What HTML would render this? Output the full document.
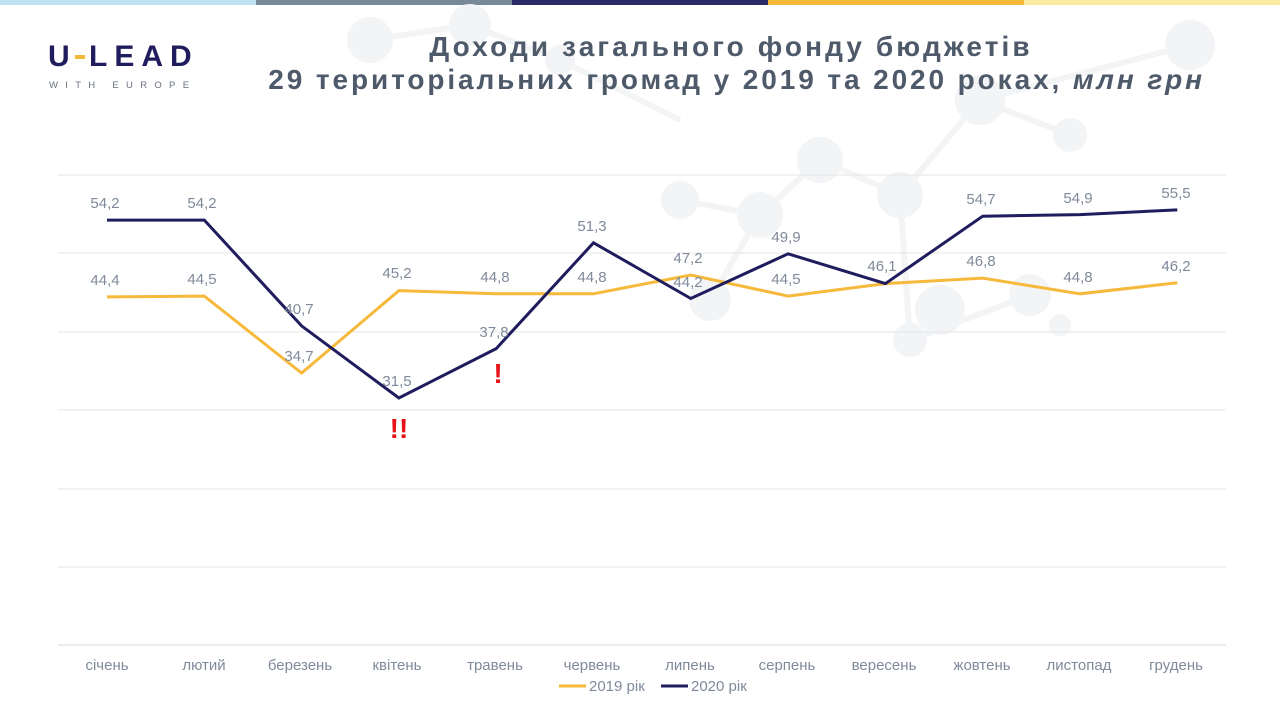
<!DOCTYPE html>
<html><head><meta charset="utf-8"><style>
body{margin:0;width:1280px;height:720px;overflow:hidden;background:#fff;font-family:"Liberation Sans",sans-serif;}
</style></head><body>
<svg width="1280" height="720" xmlns="http://www.w3.org/2000/svg" font-family="Liberation Sans, sans-serif">
<rect x="0" y="0" width="256" height="5" fill="#bde3f2"/>
<rect x="256" y="0" width="256" height="5" fill="#788a9a"/>
<rect x="512" y="0" width="256" height="5" fill="#2b2a6b"/>
<rect x="768" y="0" width="256" height="5" fill="#f5b93a"/>
<rect x="1024" y="0" width="256" height="5" fill="#fbeba2"/>
<g fill="#f3f4f6" stroke="#f3f4f6" stroke-width="6">
<line x1="370" y1="40" x2="470" y2="25"/><line x1="470" y1="25" x2="560" y2="60"/><line x1="560" y1="60" x2="680" y2="120"/>
<line x1="680" y1="200" x2="760" y2="215"/><line x1="760" y1="215" x2="820" y2="160"/><line x1="820" y1="160" x2="900" y2="195"/>
<line x1="900" y1="195" x2="980" y2="100"/><line x1="980" y1="100" x2="1070" y2="135"/><line x1="980" y1="100" x2="1190" y2="45"/>
<line x1="900" y1="195" x2="910" y2="340"/><line x1="910" y1="340" x2="1030" y2="295"/><line x1="710" y1="300" x2="760" y2="215"/>
<circle cx="370" cy="40" r="20"/><circle cx="470" cy="25" r="18"/><circle cx="560" cy="60" r="12"/><circle cx="680" cy="200" r="16"/>
<circle cx="760" cy="215" r="20"/><circle cx="820" cy="160" r="20"/><circle cx="900" cy="195" r="20"/><circle cx="980" cy="100" r="22"/>
<circle cx="1070" cy="135" r="14"/><circle cx="1190" cy="45" r="22"/><circle cx="910" cy="340" r="14"/><circle cx="1030" cy="295" r="18"/>
<circle cx="710" cy="300" r="18"/><circle cx="940" cy="310" r="22"/><circle cx="1060" cy="325" r="8"/>
</g>
<text x="48" y="66" font-size="30" font-weight="bold" fill="#1f1d5e" letter-spacing="7">U</text>
<rect x="75" y="55" width="10" height="4" fill="#f5b93a"/>
<text x="89" y="66" font-size="30" font-weight="bold" fill="#1f1d5e" letter-spacing="7">LEAD</text>
<text x="49" y="88" font-size="9.5" fill="#6a7280" letter-spacing="7.3">WITH EUROPE</text>
<text x="731" y="56" font-size="28" font-weight="bold" fill="#4e5a6a" text-anchor="middle" letter-spacing="3.1">Доходи загального фонду бюджетів</text>
<text x="1205" y="89" font-size="28" font-weight="bold" fill="#4e5a6a" text-anchor="end" letter-spacing="2.9">29 територіальних громад у 2019 та 2020 роках, <tspan font-style="italic">млн грн</tspan></text>
<g stroke="#e6e6e6" stroke-width="1">
<line x1="58" y1="175" x2="1226" y2="175"/><line x1="58" y1="253" x2="1226" y2="253"/><line x1="58" y1="332" x2="1226" y2="332"/>
<line x1="58" y1="410" x2="1226" y2="410"/><line x1="58" y1="489" x2="1226" y2="489"/><line x1="58" y1="567" x2="1226" y2="567"/>
<line x1="58" y1="645" x2="1226" y2="645" stroke="#d9d9d9"/>
</g>
<polyline fill="none" stroke="#f6b93b" stroke-width="3" points="107,296.9 204.3,296.1 301.6,373 398.9,290.6 496.2,293.8 593.5,293.8 690.8,275 788.1,296.1 885.4,283.6 982.7,278.1 1080,293.8 1177.3,282.8"/>
<polyline fill="none" stroke="#1f1d5e" stroke-width="3" points="107,220.1 204.3,220.1 301.6,325.9 398.9,398 496.2,348.6 593.5,242.8 690.8,298.5 788.1,253.8 885.4,283.6 982.7,216.2 1080,214.6 1177.3,209.9"/>
<g font-size="15" fill="#7f8a9a" text-anchor="middle">
<text x="105" y="285">44,4</text><text x="202" y="284">44,5</text><text x="299" y="361">34,7</text><text x="397" y="278">45,2</text><text x="495" y="282">44,8</text><text x="592" y="282">44,8</text><text x="688" y="263">47,2</text><text x="786" y="284">44,5</text><text x="882" y="271">46,1</text><text x="981" y="266">46,8</text><text x="1078" y="282">44,8</text><text x="1176" y="271">46,2</text>
<text x="105" y="208">54,2</text><text x="202" y="208">54,2</text><text x="299" y="314">40,7</text><text x="397" y="386">31,5</text><text x="494" y="337">37,8</text><text x="592" y="231">51,3</text><text x="688" y="287">44,2</text><text x="786" y="242">49,9</text><text x="981" y="204">54,7</text><text x="1078" y="203">54,9</text><text x="1176" y="198">55,5</text>
</g>
<text x="399" y="438" font-size="28" font-weight="bold" fill="#e8141a" text-anchor="middle">!!</text>
<text x="498" y="383" font-size="28" font-weight="bold" fill="#e8141a" text-anchor="middle">!</text>
<g font-size="15" fill="#7f8a9a" text-anchor="middle">
<text x="107" y="670">січень</text><text x="204" y="670">лютий</text><text x="300" y="670">березень</text><text x="397" y="670">квітень</text><text x="495" y="670">травень</text><text x="592" y="670">червень</text><text x="690" y="670">липень</text><text x="787" y="670">серпень</text><text x="884" y="670">вересень</text><text x="982" y="670">жовтень</text><text x="1079" y="670">листопад</text><text x="1176" y="670">грудень</text>
</g>
<line x1="559" y1="686" x2="586" y2="686" stroke="#f6b93b" stroke-width="3"/>
<text x="589" y="691" font-size="15" fill="#7f8a9a">2019 рік</text>
<line x1="661" y1="686" x2="688" y2="686" stroke="#1f1d5e" stroke-width="3"/>
<text x="691" y="691" font-size="15" fill="#7f8a9a">2020 рік</text>
</svg>
</body></html>
